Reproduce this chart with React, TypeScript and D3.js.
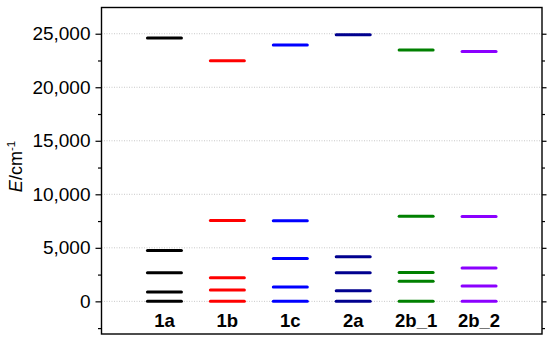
import React, { useEffect, useRef } from "react"
import * as d3 from "d3"

const categories = ["1a", "1b", "1c", "2a", "2b_1", "2b_2"]
const colors = ["#000000", "#ff0000", "#0000ff", "#00008f", "#008000", "#8b00ff"]
// energy levels (cm-1) per compound
const levels1a = [0, 870, 2670, 4760, 24600]
const levels1b = [0, 1050, 2200, 7560, 22480]
const levels1c = [0, 1330, 4010, 7520, 23940]
const levels2a = [0, 990, 2670, 4160, 24910]
const levels2b1 = [0, 1870, 2700, 7960, 23470]
const levels2b2 = [0, 1430, 3110, 7930, 23350]
const allLevels = [levels1a, levels1b, levels1c, levels2a, levels2b1, levels2b2]
const yTicks = [0, 5000, 10000, 15000, 20000, 25000]

const W = 550
const H = 341
const margin = { top: 7.5, right: 8, bottom: 7, left: 101.5 }
const font = "'Liberation Sans', Arial, sans-serif"

const App = () => {
  const ref = useRef<SVGSVGElement>(null)

  useEffect(() => {
    const svg = d3.select(ref.current)
    svg.selectAll("*").remove()

    const x = d3.scaleLinear().domain([0, 7]).range([margin.left, W - margin.right])
    const y = d3.scaleLinear().domain([-3050, 27450]).range([H - margin.bottom, margin.top])
    const halfW = 17

    // grid
    svg.append("g")
      .selectAll("line")
      .data(yTicks)
      .join("line")
      .attr("x1", margin.left)
      .attr("x2", W - margin.right)
      .attr("y1", d => y(d))
      .attr("y2", d => y(d))
      .attr("stroke", "#c8c8c8")
      .attr("stroke-width", 1)
      .attr("stroke-dasharray", "1,1.5")

    // left axis
    const left = svg.append("g")
      .attr("transform", `translate(${margin.left},0)`)
      .call(d3.axisLeft(y).tickValues(yTicks).tickSize(6).tickPadding(5).tickFormat(d3.format(",")))
    left.select(".domain").remove()
    left.selectAll(".tick line").attr("stroke", "#000").attr("stroke-width", 1.2)
    left.selectAll(".tick text").attr("font-family", font).attr("font-size", 19).attr("fill", "#000")

    const minor = d3.range(-2500, 27500, 5000)
    const leftMinor = svg.append("g")
      .attr("transform", `translate(${margin.left},0)`)
      .call(d3.axisLeft(y).tickValues(minor).tickSize(3.5).tickFormat(() => ""))
    leftMinor.select(".domain").remove()
    leftMinor.selectAll(".tick line").attr("stroke", "#000").attr("stroke-width", 1.2)

    // right axis
    const right = svg.append("g")
      .attr("transform", `translate(${W - margin.right},0)`)
      .call(d3.axisRight(y).tickValues(yTicks).tickSize(4.5).tickFormat(() => ""))
    right.select(".domain").remove()
    right.selectAll(".tick line").attr("stroke", "#000").attr("stroke-width", 1.2)
    const rightMinor = svg.append("g")
      .attr("transform", `translate(${W - margin.right},0)`)
      .call(d3.axisRight(y).tickValues(minor).tickSize(3).tickFormat(() => ""))
    rightMinor.select(".domain").remove()
    rightMinor.selectAll(".tick line").attr("stroke", "#000").attr("stroke-width", 1.2)

    // frame
    svg.append("rect")
      .attr("x", margin.left)
      .attr("y", margin.top)
      .attr("width", W - margin.left - margin.right)
      .attr("height", H - margin.top - margin.bottom)
      .attr("fill", "none")
      .attr("stroke", "#000")
      .attr("stroke-width", 1.4)

    // levels
    allLevels.forEach((lv, i) => {
      svg.append("g")
        .selectAll("line")
        .data(lv)
        .join("line")
        .attr("x1", x(i + 1) - halfW)
        .attr("x2", x(i + 1) + halfW)
        .attr("y1", d => y(d))
        .attr("y2", d => y(d))
        .attr("stroke", colors[i])
        .attr("stroke-width", 3)
        .attr("stroke-linecap", "round")
    })

    // category labels
    svg.append("g")
      .selectAll("text")
      .data(categories)
      .join("text")
      .attr("x", (d, i) => x(i + 1))
      .attr("y", 326.5)
      .attr("text-anchor", "middle")
      .attr("font-family", font)
      .attr("font-weight", "bold")
      .attr("font-size", 18.5)
      .text(d => d)

    // y label
    const yl = svg.append("text")
      .attr("transform", `translate(22,166.5) rotate(-90)`)
      .attr("text-anchor", "middle")
      .attr("font-family", font)
      .attr("font-size", 18)
    yl.append("tspan").attr("font-style", "italic").text("E")
    yl.append("tspan").text("/cm")
    yl.append("tspan").attr("font-size", 11.5).attr("dy", -7).text("-1")
  }, [])

  return (
    <svg
      ref={ref}
      width={W}
      height={H}
      style={{ position: "absolute", left: 0, top: 0, background: "#fff" }}
    />
  )
}

export default App
